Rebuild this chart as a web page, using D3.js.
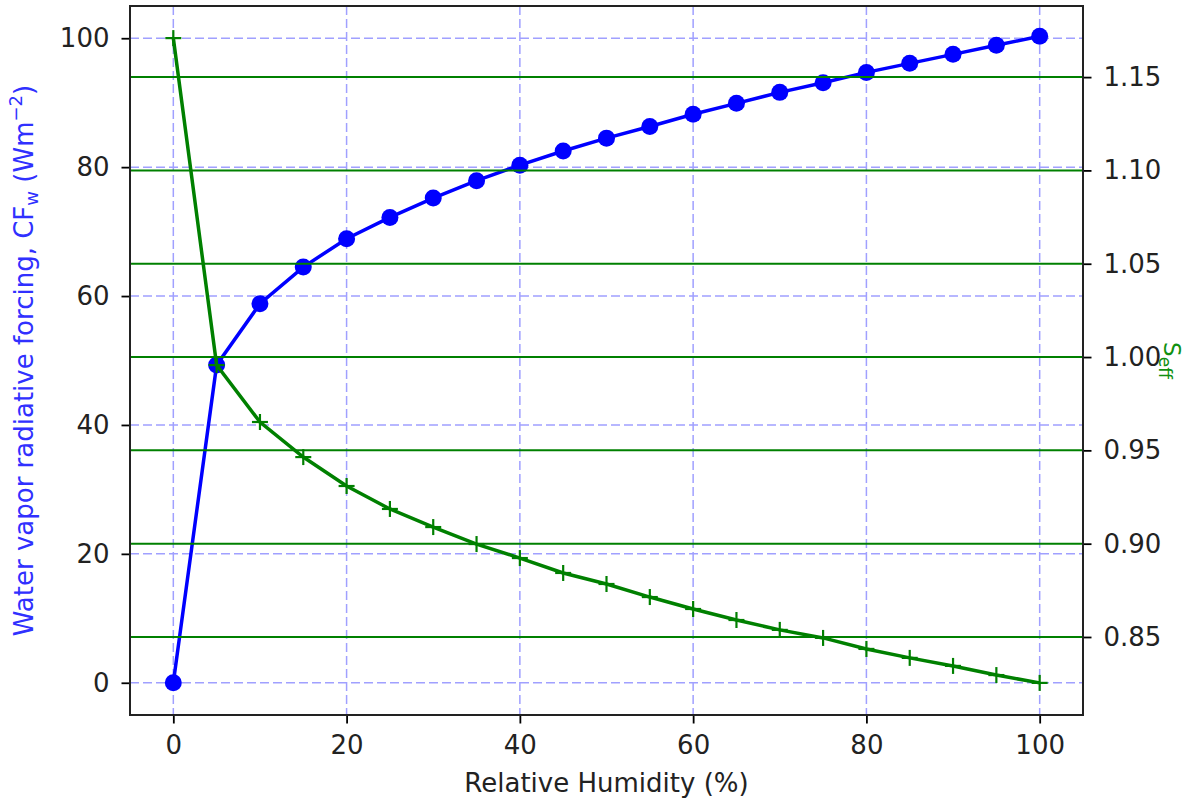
<!DOCTYPE html>
<html>
<head>
<meta charset="utf-8">
<script src="https://cdn.jsdelivr.net/npm/d3@7"></script>
<style>
  body { margin: 0; background: #fff; }
  svg text { font-family: "DejaVu Sans", sans-serif; }
</style>
</head>
<body>
<div id="chart"></div>
<script>
// data
const humidity = [0, 5, 10, 15, 20, 25, 30, 35, 40, 45, 50, 55, 60, 65, 70, 75, 80, 85, 90, 95, 100];
const forcing = [0, 49.3, 58.8, 64.5, 68.9, 72.2, 75.2, 77.9, 80.3, 82.5, 84.5, 86.3, 88.2, 89.9, 91.6, 93.1, 94.7, 96.1, 97.5, 98.9, 100.3];
const seff = [1.1709, 0.9957, 0.9652, 0.9464, 0.9309, 0.9186, 0.9089, 0.8998, 0.8923, 0.8843, 0.8784, 0.8714, 0.8650, 0.8591, 0.8538, 0.8495, 0.8436, 0.8388, 0.8345, 0.8296, 0.8254];
const xTicks = [0, 20, 40, 60, 80, 100];
const leftTicks = [0, 20, 40, 60, 80, 100];
const rightTicks = [0.85, 0.90, 0.95, 1.00, 1.05, 1.10, 1.15];

const W = 1193, H = 800;
const margin = {top: 6, right: 110, bottom: 85, left: 130};
const width = W - margin.left - margin.right;
const height = H - margin.top - margin.bottom;
const FS = 26;

const svg = d3.select("#chart").append("svg")
    .attr("width", W)
    .attr("height", H);

const g = svg.append("g")
    .attr("transform", `translate(${margin.left},${margin.top})`);

const x = d3.scaleLinear().domain([-5, 105]).range([0, width]);
const yL = d3.scaleLinear().domain([-5, 105]).range([height, 0]);
const yR = d3.scaleLinear().domain([0.8082, 1.1881]).range([height, 0]);

// blue dashed grid (x + left axis)
const gridBlue = "#a0a0ff";
g.append("g").selectAll("line")
    .data(xTicks).enter().append("line")
    .attr("x1", d => x(d)).attr("x2", d => x(d))
    .attr("y1", 0).attr("y2", height)
    .attr("stroke", gridBlue)
    .attr("stroke-width", 1.5).attr("stroke-dasharray", "9,4");
g.append("g").selectAll("line")
    .data(leftTicks).enter().append("line")
    .attr("x1", 0).attr("x2", width)
    .attr("y1", d => yL(d)).attr("y2", d => yL(d))
    .attr("stroke", gridBlue)
    .attr("stroke-width", 1.5).attr("stroke-dasharray", "9,4");

// blue series
const bPts = humidity.map((h, i) => [h, forcing[i]]);
g.append("path")
    .datum(bPts)
    .attr("fill", "none")
    .attr("stroke", "#0000ff")
    .attr("stroke-width", 3.5)
    .attr("d", d3.line().x(d => x(d[0])).y(d => yL(d[1])));
g.append("g").selectAll("circle")
    .data(bPts)
    .enter().append("circle")
    .attr("cx", d => x(d[0])).attr("cy", d => yL(d[1]))
    .attr("r", 8.5)
    .attr("fill", "#0000ff");

// green grid (right axis)
g.append("g").selectAll("line")
    .data(rightTicks).enter().append("line")
    .attr("x1", 0).attr("x2", width)
    .attr("y1", d => yR(d)).attr("y2", d => yR(d))
    .attr("stroke", "#008000").attr("stroke-width", 2);

// green series
const gPts = humidity.map((h, i) => [h, seff[i]]);
g.append("path")
    .datum(gPts)
    .attr("fill", "none")
    .attr("stroke", "#008000")
    .attr("stroke-width", 3.5)
    .attr("d", d3.line().x(d => x(d[0])).y(d => yR(d[1])));
const plus = g.append("g").selectAll("g")
    .data(gPts).enter().append("g")
    .attr("transform", d => `translate(${x(d[0])},${yR(d[1])})`);
plus.append("line").attr("x1", -8).attr("x2", 8).attr("stroke", "#008000").attr("stroke-width", 2.2);
plus.append("line").attr("y1", -8).attr("y2", 8).attr("stroke", "#008000").attr("stroke-width", 2.2);

// axes
const xAxis = g.append("g")
    .attr("transform", `translate(0,${height})`)
    .call(d3.axisBottom(x).tickValues(xTicks).tickSize(8.5).tickPadding(12).tickFormat(d3.format("d")));
const leftAxis = g.append("g")
    .call(d3.axisLeft(yL).tickValues(leftTicks).tickSize(8.5).tickPadding(12).tickFormat(d3.format("d")));
const rightAxis = g.append("g")
    .attr("transform", `translate(${width},0)`)
    .call(d3.axisRight(yR).tickValues(rightTicks).tickSize(8.5).tickPadding(12).tickFormat(d3.format(".2f")));

[xAxis, leftAxis, rightAxis].forEach(a => {
    a.select(".domain").remove();
    a.selectAll("text").attr("font-size", FS).attr("fill", "#222")
        .style("font-family", "'DejaVu Sans', sans-serif");
    a.selectAll("line").attr("stroke", "#000").attr("stroke-width", 1.8);
});

// frame
g.append("rect")
    .attr("x", 0).attr("y", 0)
    .attr("width", width).attr("height", height)
    .attr("fill", "none").attr("stroke", "#222").attr("stroke-width", 2);

// labels
g.append("text")
    .attr("x", width / 2).attr("y", 792 - margin.top)
    .attr("text-anchor", "middle").attr("font-size", FS)
    .attr("fill", "#222")
    .text("Relative Humidity (%)");

const yl = svg.append("text")
    .attr("transform", `translate(33,${margin.top + height / 2}) rotate(-90)`)
    .attr("text-anchor", "middle").attr("font-size", FS)
    .attr("fill", "#3030ff");
yl.append("tspan").text("Water vapor radiative forcing, CF");
yl.append("tspan").attr("dy", 5).attr("font-size", 18).text("w");
yl.append("tspan").attr("dy", -5).text(" (Wm");
yl.append("tspan").attr("dy", -11).attr("font-size", 18).text("\u22122");
yl.append("tspan").attr("dy", 11).text(")");

const yr = svg.append("text")
    .attr("transform", `translate(1164,${margin.top + height / 2}) rotate(90)`)
    .attr("text-anchor", "middle").attr("font-size", 23)
    .attr("fill", "#109010");
yr.append("tspan").text("S");
yr.append("tspan").attr("dy", 5).attr("font-size", 17).text("eff");
</script>
</body>
</html>
